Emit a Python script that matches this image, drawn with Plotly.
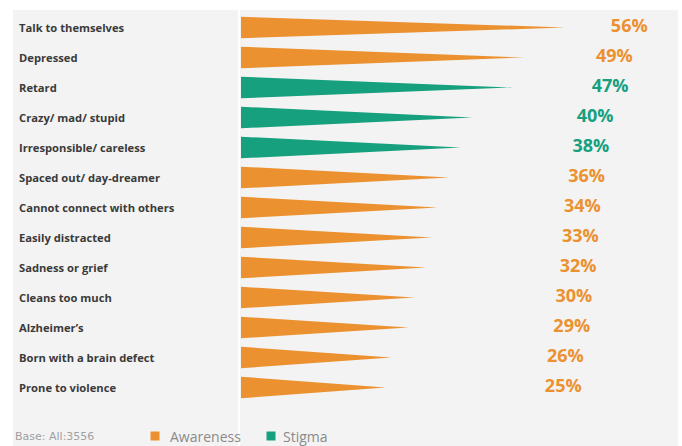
import plotly.graph_objects as go

categories = ["Talk to themselves", "Depressed", "Retard", "Crazy/ mad/ stupid",
              "Irresponsible/ careless", "Spaced out/ day-dreamer",
              "Cannot connect with others", "Easily distracted", "Sadness or grief",
              "Cleans too much", "Alzheimer\u2019s", "Born with a brain defect",
              "Prone to violence"]
values = [56, 49, 47, 40, 38, 36, 34, 33, 32, 30, 29, 26, 25]
groups = ["Awareness", "Awareness", "Stigma", "Stigma", "Stigma", "Awareness",
          "Awareness", "Awareness", "Awareness", "Awareness", "Awareness",
          "Awareness", "Awareness"]
legend_names = ["Awareness", "Stigma"]
base_note = "Base: All:3556"

colors = {"Awareness": "#EC9130", "Stigma": "#17A07E"}

W, H = 682, 446
L, R, T, B = 13, 4, 10, 0
PW, PH = W - L - R, H - T - B
px_per_pct = 5.78
zero_px = 241
pitch = 30
first_row_px = 27.5
half_h = 0.36

x0 = -(zero_px - L) / px_per_pct
x1 = x0 + PW / px_per_pct
ytop = -(first_row_px - T) / pitch
ybot = ytop + PH / pitch


def px_to_paper_x(px):
    return (px - L) / PW


def px_to_paper_y(py):
    return (H - B - py) / PH


fig = go.Figure()

for i, (cat, v, g) in enumerate(zip(categories, values, groups)):
    fig.add_trace(go.Scatter(
        x=[0, v, 0, 0], y=[i - half_h, i, i + half_h, i - half_h],
        mode="lines", fill="toself", fillcolor=colors[g],
        line=dict(width=0, color=colors[g]), showlegend=False, hoverinfo="skip"))

# percentage labels
lab_x = [(510 - zero_px) / px_per_pct + (2.13 / px_per_pct) * v for v in values]
fig.add_trace(go.Scatter(
    x=lab_x, y=list(range(len(values))), mode="text",
    text=[f"{v}%" for v in values], textposition="middle center",
    textfont=dict(family="Open Sans", size=18, color=[colors[g] for g in groups]),
    showlegend=False, hoverinfo="skip", texttemplate="<b>%{text}</b>"))

# category labels
for i, cat in enumerate(categories):
    fig.add_annotation(x=px_to_paper_x(18), y=i, xref="paper", yref="y",
                       text=f"<b>{cat}</b>", showarrow=False, xanchor="left",
                       xshift=-1,
                       font=dict(family="Open Sans", size=11.2, color="#3A3A3A"))

# legend (drawn manually to match compact layout)
leg_y = 436
leg_pos = {"Awareness": (155, 170), "Stigma": (271, 283)}
for g in legend_names:
    sx, tx = leg_pos[g]
    fig.add_shape(type="rect", xref="paper", yref="paper",
                  x0=px_to_paper_x(sx - 4.5), x1=px_to_paper_x(sx + 4.5),
                  y0=px_to_paper_y(leg_y + 4.5), y1=px_to_paper_y(leg_y - 4.5),
                  fillcolor=colors[g], line=dict(width=0))
    fig.add_annotation(xref="paper", yref="paper", x=px_to_paper_x(tx),
                       y=px_to_paper_y(leg_y), text=g, showarrow=False,
                       xanchor="left", yanchor="middle", xshift=-2,
                       font=dict(family="Open Sans", size=14, color="#8A8A8A"))

fig.add_annotation(xref="paper", yref="paper", x=px_to_paper_x(15),
                   y=px_to_paper_y(leg_y), text=base_note, showarrow=False,
                   xanchor="left", yanchor="middle", xshift=-2,
                   font=dict(family="DejaVu Sans", size=11, color="#A0A0A0"))

fig.add_shape(type="line", x0=-0.35, x1=-0.35, y0=ytop, y1=ybot, xref="x", yref="y",
              line=dict(color="white", width=2), layer="below")

fig.update_layout(
    width=W, height=H, margin=dict(l=L, r=R, t=T, b=B),
    paper_bgcolor="white", plot_bgcolor="#F3F3F3",
    xaxis=dict(range=[x0, x1], visible=False, fixedrange=True),
    yaxis=dict(range=[ybot, ytop], visible=False, fixedrange=True),
    showlegend=False,
)

fig.write_html("out.html", config={"displayModeBar": False},
               post_script="document.body.style.margin='0';document.body.style.overflow='hidden';")
